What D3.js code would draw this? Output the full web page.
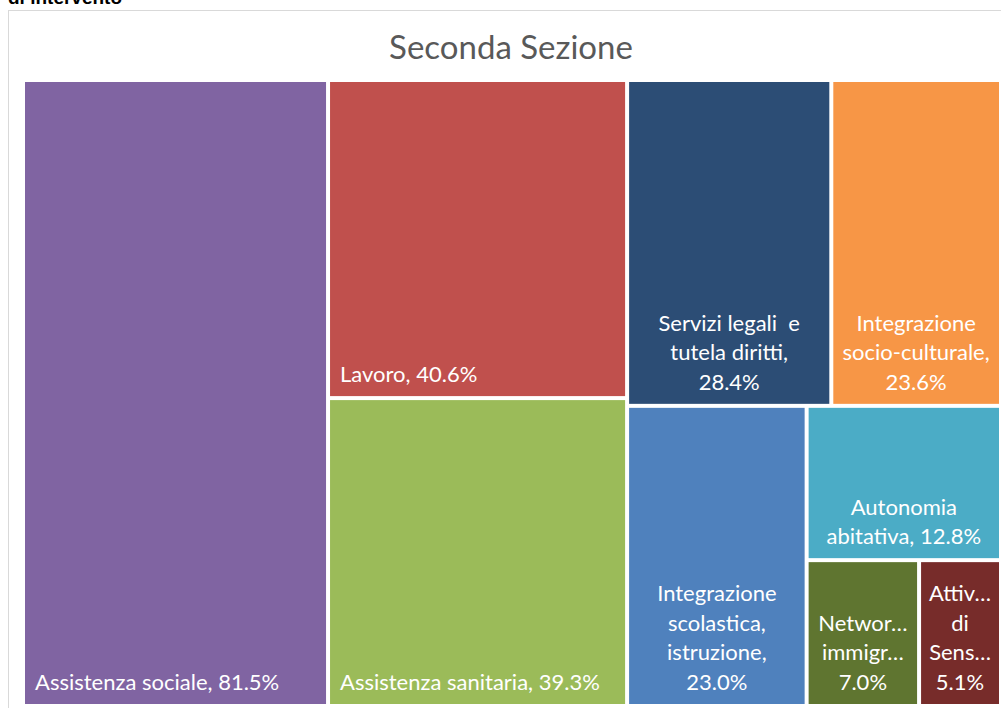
<!doctype html>
<html lang="it">
  <head>
    <meta charset="utf-8">
    <title>Seconda Sezione</title>
    <script src="https://d3js.org/d3.v7.min.js"></script>
    <style>
      body { margin: 0; background: #fff; }
      svg { display: block; }
    </style>
  </head>
  <body>
    <div id="container"></div>
  </body>
  <script>
    // dati
    const categories = [
      "Assistenza sociale",
      "Lavoro",
      "Assistenza sanitaria",
      "Servizi legali  e tutela diritti",
      "Integrazione socio-culturale",
      "Integrazione scolastica, istruzione",
      "Autonomia abitativa",
      "Network immigrati",
      "Attività di Sensibilizzazione"
    ]
    const values = [81.5, 40.6, 39.3, 28.4, 23.6, 23.0, 12.8, 7.0, 5.1]
    // righe delle etichette come le spezza Excel (ultima riga = valore)
    const labelLines = [
      ["Assistenza sociale, 81.5%"],
      ["Lavoro, 40.6%"],
      ["Assistenza sanitaria, 39.3%"],
      ["Servizi legali  e", "tutela diritti,", "28.4%"],
      ["Integrazione", "socio-culturale,", "23.6%"],
      ["Integrazione", "scolastica,", "istruzione,", "23.0%"],
      ["Autonomia", "abitativa, 12.8%"],
      ["Networ…", "immigr…", "7.0%"],
      ["Attiv…", "di", "Sens…", "5.1%"]
    ]
    const colors = ["#8064A2", "#C0504D", "#9BBB59", "#2C4D75", "#F79646",
                    "#4F81BD", "#4BACC6", "#5F7530", "#772C2A"]

    const width = 1001
    const height = 708
    const area = {left: 25, top: 82, right: 999, bottom: 704}

    const svg = d3.select("#container")
      .append("svg")
        .attr("width", width)
        .attr("height", height)

    // testo tagliato in alto (dal documento)
    svg.append("text")
      .attr("x", 8)
      .attr("y", 4)
      .attr("font-family", "Liberation Sans, Arial, sans-serif")
      .attr("font-weight", "bold")
      .attr("font-size", 19)
      .attr("fill", "#000")
      .text("di intervento")

    // bordo del grafico
    svg.append("rect")
      .attr("x", 8.5)
      .attr("y", 10.5)
      .attr("width", 1010)
      .attr("height", 720)
      .attr("fill", "#fff")
      .attr("stroke", "#d9d9d9")

    svg.append("text")
      .attr("x", 511)
      .attr("y", 59)
      .attr("text-anchor", "middle")
      .attr("font-family", "Lato, Open Sans, sans-serif")
      .attr("font-size", 33)
      .attr("fill", "#595959")
      .text("Seconda Sezione")

    const data = {children: categories.map((c, i) => ({name: c, value: values[i], idx: i}))}
    const root = d3.hierarchy(data).sum(d => d.value || 0)
      .sort((a, b) => b.value - a.value)

    d3.treemap()
      .tile(d3.treemapSquarify.ratio(1))
      .size([area.right - area.left, area.bottom - area.top])
      .paddingInner(4)(root)

    const cells = svg.append("g")
      .attr("transform", `translate(${area.left},${area.top})`)
      .selectAll("g")
      .data(root.leaves())
      .join("g")

    cells.append("rect")
      .attr("x", d => d.x0)
      .attr("y", d => d.y0)
      .attr("width", d => d.x1 - d.x0)
      .attr("height", d => d.y1 - d.y0)
      .attr("fill", d => colors[d.data.idx])

    const lineH = 29.6
    cells.each(function(d) {
      const lines = labelLines[d.data.idx]
      const single = lines.length === 1
      const t = d3.select(this).append("text")
        .attr("font-family", "Lato, Open Sans, sans-serif")
        .attr("font-size", 22)
        .attr("fill", "#fff")
        .attr("text-anchor", single ? "start" : "middle")
      const x = single ? d.x0 + 10 : (d.x0 + d.x1) / 2
      lines.forEach((l, k) => {
        t.append("tspan")
          .attr("x", x)
          .attr("y", d.y1 - 14 - (lines.length - 1 - k) * lineH)
          .attr("xml:space", "preserve")
          .text(l)
      })
    })
  </script>
</html>
